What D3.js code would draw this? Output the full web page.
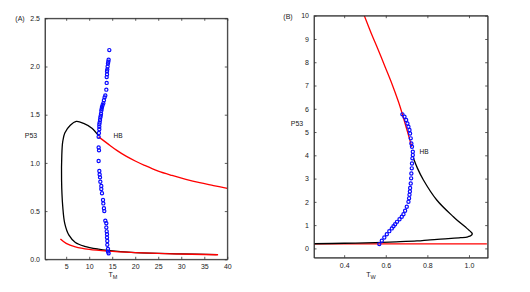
<!DOCTYPE html>
<html>
<head>
<meta charset="utf-8">
<script src="https://cdn.jsdelivr.net/npm/d3@7"></script>
<style>
  body { margin: 0; background: #fff; }
  svg { font-family: "Liberation Sans", Arial, sans-serif; }
</style>
</head>
<body>
<div id="chart"></div>
<script>
// panel A : P53 vs T_M
const aBlackT = [37.7, 30, 20, 14, 12, 9, 7, 5.6, 4.7, 4.25, 4.0, 4.05, 4.25, 4.7, 5.9, 7.2, 8.8, 10.6, 12.05];
const aBlackP = [0.048, 0.056, 0.07, 0.092, 0.105, 0.135, 0.175, 0.25, 0.37, 0.55, 0.82, 1.08, 1.22, 1.31, 1.39, 1.43, 1.41, 1.36, 1.28];
const aRedUpT = [12.05, 14, 16, 18, 20, 22, 25, 28, 31, 34, 37, 40];
const aRedUpP = [1.27, 1.2, 1.13, 1.07, 1.02, 0.975, 0.915, 0.87, 0.83, 0.795, 0.765, 0.735];
const aRedLowT = [3.75, 5, 7, 10, 14, 20, 28, 38];
const aRedLowP = [0.21, 0.165, 0.13, 0.103, 0.085, 0.07, 0.057, 0.047];
const aHbT = [14.37, 14.22, 14.15, 14.08, 14.0, 13.93, 13.87, 13.87, 13.8, 13.8, 13.72, 13.5, 13.35, 13.2, 13.07,
  12.92, 12.78, 12.7, 12.63, 12.57, 12.5, 12.42, 12.35, 12.27, 12.2, 12.2, 12.2, 12.12, 12.05,
  12.05, 12.13, 12.05, 12.2, 12.27, 12.35, 12.42, 12.63, 12.63, 12.78, 13.0, 13.07, 13.2, 13.28, 13.5,
  13.72, 13.72, 13.8, 13.87, 13.87, 13.93, 13.93, 14.08, 14.08, 14.22];
const aHbP = [2.17, 2.07, 2.05, 2.03, 2.0, 1.97, 1.95, 1.92, 1.89, 1.83, 1.76, 1.7, 1.68, 1.65, 1.62,
  1.6, 1.58, 1.56, 1.54, 1.51, 1.49, 1.47, 1.445, 1.42, 1.4, 1.375, 1.35, 1.31, 1.27,
  1.16, 1.13, 1.02, 0.916, 0.88, 0.85, 0.805, 0.76, 0.73, 0.685, 0.615, 0.58, 0.53, 0.5, 0.4,
  0.375, 0.33, 0.29, 0.26, 0.225, 0.19, 0.15, 0.107, 0.08, 0.062];
const aXTicks = [5, 10, 15, 20, 25, 30, 35, 40];
const aYTicks = [0, 0.5, 1, 1.5, 2, 2.5];

// panel B : P53 vs T_W
const bBlackT = [0.255, 0.4, 0.55, 0.65, 0.75, 0.813, 0.9, 0.96, 0.995, 1.01, 1.016, 1.008, 0.99, 0.925, 0.845, 0.781, 0.752, 0.733];
const bBlackP = [0.2, 0.22, 0.25, 0.28, 0.32, 0.37, 0.42, 0.46, 0.5, 0.55, 0.63, 0.72, 0.86, 1.36, 2.08, 2.94, 3.45, 3.87];
const bRedUpT = [0.497, 0.53, 0.564, 0.597, 0.629, 0.661, 0.677, 0.7, 0.725];
const bRedUpP = [10, 9.25, 8.53, 7.8, 7.09, 6.3, 5.85, 5.15, 4.37];
const bRedLowT = [0.255, 1.086];
const bRedLowP = [0.19, 0.19];
const bHbT = [0.68, 0.69, 0.698, 0.704, 0.709, 0.714, 0.717, 0.72, 0.723, 0.726, 0.73, 0.73, 0.728, 0.726, 0.725,
  0.723, 0.722, 0.72, 0.717, 0.716, 0.714, 0.712, 0.709, 0.701, 0.693, 0.685, 0.677, 0.666, 0.654, 0.645,
  0.637, 0.629, 0.617, 0.605, 0.593, 0.581, 0.569];
const bHbP = [5.76, 5.66, 5.52, 5.37, 5.23, 5.09, 4.94, 4.73, 4.51, 4.37, 4.15, 4.01, 3.87, 3.65, 3.44,
  3.22, 3.01, 2.79, 2.6, 2.45, 2.3, 2.15, 2.0, 1.79, 1.62, 1.47, 1.36, 1.25, 1.14, 1.04,
  0.95, 0.86, 0.74, 0.61, 0.47, 0.33, 0.185];
const bXTicks = [0.4, 0.6, 0.8, 1];
const bYTicks = [0, 1, 2, 3, 4, 5, 6, 7, 8, 9, 10];

const svg = d3.select("#chart").append("svg").attr("width", 530).attr("height", 292);

const zip = (xs, ys) => xs.map((x, i) => [x, ys[i]]);

function drawPanel(p) {
  const x = d3.scaleLinear().domain(p.xDomain).range([p.left, p.right]);
  const y = d3.scaleLinear().domain(p.yDomain).range([p.bottom, p.top]);
  const g = svg.append("g");

  // clip so lines stay inside the box
  const clipId = "clip" + p.name;
  g.append("clipPath").attr("id", clipId).append("rect")
    .attr("x", p.left).attr("y", p.top)
    .attr("width", p.right - p.left).attr("height", p.bottom - p.top);

  const line = d3.line().x((d) => x(d[0])).y((d) => y(d[1])).curve(d3.curveCatmullRom);
  const plot = g.append("g").attr("clip-path", `url(#${clipId})`);

  p.lines.forEach((l) => {
    plot.append("path").datum(zip(l.t, l.p))
      .attr("d", line).attr("fill", "none")
      .attr("stroke", l.color).attr("stroke-width", 1.3);
  });

  plot.selectAll("circle.hb").data(zip(p.hbT, p.hbP)).enter()
    .append("circle").attr("class", "hb")
    .attr("cx", (d) => x(d[0])).attr("cy", (d) => y(d[1]))
    .attr("r", 1.6).attr("fill", "none")
    .attr("stroke", "#0a0aff").attr("stroke-width", 1.2);

  // axes, matlab style: ticks inside on all sides
  const tk = 2.5;
  g.append("g").attr("transform", `translate(0,${p.bottom})`)
    .call(d3.axisBottom(x).tickValues(p.xTicks).tickSizeInner(-tk).tickSizeOuter(0).tickPadding(5));
  g.append("g").attr("transform", `translate(0,${p.top})`)
    .call(d3.axisTop(x).tickValues(p.xTicks).tickSizeInner(-tk).tickSizeOuter(0).tickFormat(""));
  g.append("g").attr("transform", `translate(${p.left},0)`)
    .call(d3.axisLeft(y).tickValues(p.yTicks).tickSizeInner(-tk).tickSizeOuter(0).tickPadding(5));
  g.append("g").attr("transform", `translate(${p.right},0)`)
    .call(d3.axisRight(y).tickValues(p.yTicks).tickSizeInner(-tk).tickSizeOuter(0).tickFormat(""));

  g.selectAll(".domain").attr("stroke", "#333").attr("stroke-width", 0.8);
  g.selectAll(".tick line").attr("stroke", "#333").attr("stroke-width", 0.8);
  g.selectAll(".tick text").attr("font-size", 7).attr("fill", "#222")
    .attr("font-family", '"Liberation Sans", Arial, sans-serif');

  g.append("rect").attr("x", p.left).attr("y", p.top)
    .attr("width", p.right - p.left).attr("height", p.bottom - p.top)
    .attr("fill", "none").attr("stroke", "#333").attr("stroke-width", 0.8);

  // labels
  g.append("text").attr("x", p.tagX).attr("y", p.top + 3).attr("font-size", 7).attr("fill", "#222")
    .attr("text-anchor", "middle").text(p.tag);
  g.append("text").attr("x", p.yLabX).attr("y", p.yLabY).attr("font-size", 7).attr("fill", "#222")
    .attr("text-anchor", "middle").text("P53");
  const xl = g.append("text").attr("x", p.xLabX).attr("y", 277).attr("font-size", 7).attr("fill", "#222")
    .attr("text-anchor", "middle");
  xl.append("tspan").text("T");
  xl.append("tspan").attr("dy", 2).attr("font-size", 5.5).text(p.xSub);
  g.append("text").attr("x", p.hbX).attr("y", p.hbY).attr("font-size", 6.5).attr("fill", "#111")
    .attr("text-anchor", "middle").text("HB");
}

drawPanel({
  name: "A", tag: "(A)", tagX: 20,
  left: 45, right: 227.3, top: 18.3, bottom: 259.3,
  xDomain: [0.4, 40], yDomain: [0, 2.5],
  xTicks: aXTicks, yTicks: aYTicks,
  lines: [
    { t: aBlackT, p: aBlackP, color: "#000" },
    { t: aRedUpT, p: aRedUpP, color: "#f00" },
    { t: aRedLowT, p: aRedLowP, color: "#f00" }
  ],
  hbT: aHbT, hbP: aHbP,
  yLabX: 31, yLabY: 138, xLabX: 113, xSub: "M", hbX: 118, hbY: 138
});

drawPanel({
  name: "B", tag: "(B)", tagX: 288,
  left: 314, right: 487.7, top: 15.7, bottom: 257.7,
  xDomain: [0.255, 1.09], yDomain: [-0.4, 10],
  xTicks: bXTicks, yTicks: bYTicks,
  lines: [
    { t: bRedLowT, p: bRedLowP, color: "#f00" },
    { t: bBlackT, p: bBlackP, color: "#000" },
    { t: bRedUpT, p: bRedUpP, color: "#f00" }
  ],
  hbT: bHbT, hbP: bHbP,
  yLabX: 297, yLabY: 126, xLabX: 371, xSub: "W", hbX: 424, hbY: 154
});
</script>
</body>
</html>
